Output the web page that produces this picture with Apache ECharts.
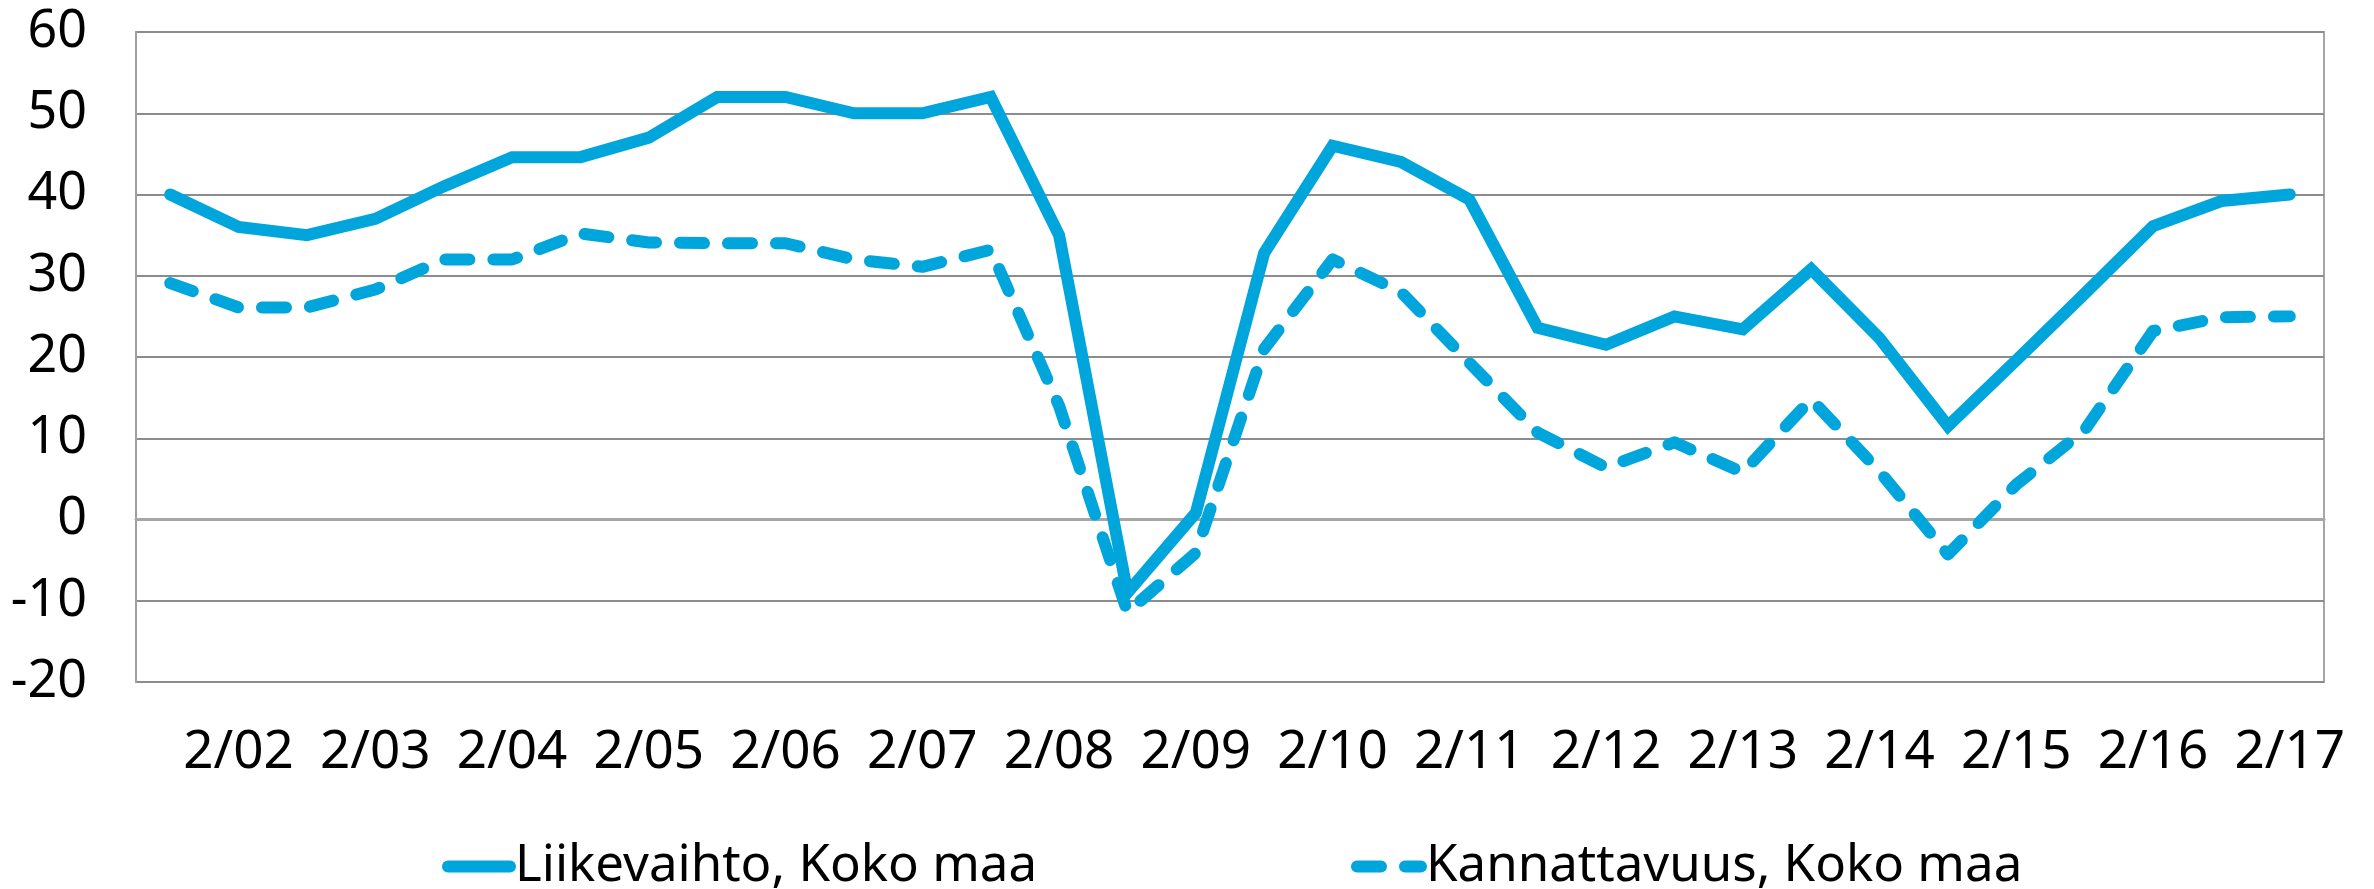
<!DOCTYPE html>
<html>
<head>
<meta charset="utf-8">
<script src="https://cdn.jsdelivr.net/npm/echarts@6/dist/echarts.min.js"></script>
<style>html,body{margin:0;padding:0;background:#fff}#c{width:2374px;height:889px}</style>
</head>
<body>
<div id="c"></div>
<script>
const categories = ["8/01","2/02","8/02","2/03","8/03","2/04","8/04","2/05","8/05","2/06","8/06","2/07","8/07","2/08","8/08","2/09","8/09","2/10","8/10","2/11","8/11","2/12","8/12","2/13","8/13","2/14","8/14","2/15","8/15","2/16","8/16","2/17"];
const liikevaihto = [40, 36, 35, 37, 41, 44.6, 44.6, 47, 52, 52, 50, 50, 52, 35, -9, 0.8, 32.8, 46, 44, 39.4, 23.6, 21.5, 25, 23.4, 30.8, 22.3, 11.5, 19.6, 27.8, 36.1, 39.2, 40];
const kannattavuus = [29.1, 26.1, 26.1, 28.3, 32, 32, 35.2, 34.1, 34, 34, 32, 31.1, 33.2, 14, -11.4, -4.1, 21, 32, 28, 19.3, 10.7, 6.4, 9.5, 5.8, 14.8, 5.9, -4.3, 4.3, 11, 23.2, 24.9, 25];
const seriesNames = ["Liikevaihto, Koko maa", "Kannattavuus, Koko maa"];
const yTicks = {min: -20, max: 60, step: 10};

const color = '#00a5db';
const font = 'Noto Sans';
const lw = 12;
const dash = [24, 24];
const chart = echarts.init(document.getElementById('c'), null, {renderer: 'canvas'});
chart.setOption({
  animation: false,
  backgroundColor: '#fff',
  textStyle: {fontFamily: font},
  grid: {left: 136, top: 32, width: 2188, height: 650, show: true, borderColor: '#a6a6a6', borderWidth: 2, containLabel: false},
  legend: [
    {data: [seriesNames[0]], left: 437, top: 836, itemWidth: 62, itemHeight: 14, itemGap: 0,
     itemStyle: {opacity: 0},
     lineStyle: {width: lw, cap: 'round', color: color},
     textStyle: {fontFamily: font, fontSize: 51, color: '#000'}},
    {data: [seriesNames[1]], left: 1346, top: 836, itemWidth: 64, itemHeight: 14, itemGap: 0,
     itemStyle: {opacity: 0},
     lineStyle: {width: lw, cap: 'round', color: color, type: dash},
     textStyle: {fontFamily: font, fontSize: 51, color: '#000'}}
  ],
  xAxis: {
    type: 'category', data: categories, boundaryGap: true,
    axisLine: {show: true, lineStyle: {color: '#a6a6a6', width: 3}},
    axisTick: {show: false},
    axisLabel: {interval: function (i) { return i % 2 === 1; }, fontFamily: font, fontSize: 53, color: '#000', margin: 44}
  },
  yAxis: {
    type: 'value', min: yTicks.min, max: yTicks.max, interval: yTicks.step,
    axisLine: {show: true, lineStyle: {color: '#a0a0a0', width: 2}},
    axisTick: {show: false},
    splitLine: {show: true, lineStyle: {color: '#8c8c8c', width: 2}},
    axisLabel: {fontFamily: font, fontSize: 52, color: '#000', margin: 49}
  },
  series: [
    {name: seriesNames[0], type: 'line', data: liikevaihto, symbol: 'none', showSymbol: false,
     itemStyle: {color: color},
     lineStyle: {color: color, width: lw, cap: 'round', join: 'miter'}},
    {name: seriesNames[1], type: 'line', data: kannattavuus, symbol: 'none', showSymbol: false,
     itemStyle: {color: color},
     lineStyle: {color: color, width: lw, type: dash, cap: 'round', join: 'round'}}
  ]
});
</script>
</body>
</html>
